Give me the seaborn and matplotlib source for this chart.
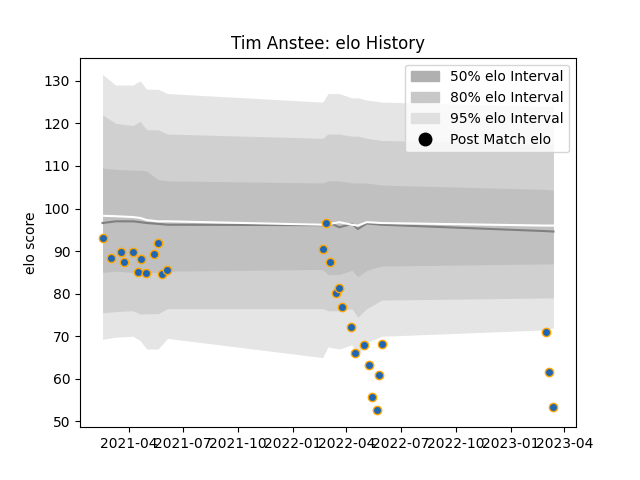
import numpy as np
import pandas as pd
import matplotlib
matplotlib.use("Agg")
import matplotlib.pyplot as plt
import matplotlib.dates as mdates
from matplotlib.patches import Patch
from matplotlib.lines import Line2D
import seaborn as sns

# Post match elo values
match_dates = ["2021-02-16", "2021-03-03", "2021-03-19", "2021-03-24", "2021-04-08", "2021-04-16",
               "2021-04-21", "2021-04-30", "2021-05-13", "2021-05-20", "2021-05-27", "2021-06-04",
               "2022-02-20", "2022-02-26", "2022-03-05", "2022-03-14", "2022-03-19", "2022-03-25",
               "2022-04-08", "2022-04-16", "2022-04-30", "2022-05-08", "2022-05-13", "2022-05-22",
               "2022-05-25", "2022-05-30", "2023-03-01", "2023-03-07", "2023-03-14"]
match_elo = [93.0, 88.5, 89.7, 87.5, 89.7, 85.2, 88.2, 84.9, 89.4, 92.0, 84.7, 85.5,
             90.4, 96.5, 87.5, 80.2, 81.4, 76.9, 72.2, 66.0, 67.9, 63.2, 55.7, 52.6,
             60.9, 68.2, 71.0, 61.5, 53.3]

# Rating distribution over time
band_dates = ["2021-02-16", "2021-03-10", "2021-04-08", "2021-04-20", "2021-05-01", "2021-05-20",
              "2021-06-05", "2022-02-20", "2022-03-01", "2022-03-20", "2022-04-10", "2022-04-20",
              "2022-05-05", "2022-05-30", "2023-03-01", "2023-03-14"]
hi95 = [131.5, 129, 129, 130, 128, 128, 127, 125, 127, 127, 126, 126, 125.5, 125, 124, 124]
hi80 = [122, 120, 119.5, 120.5, 118.5, 118.5, 117.5, 116.5, 117.5, 117.5, 117, 117, 116.5, 116, 115, 115]
hi50 = [109.5, 109.2, 109, 109, 108.8, 106.8, 106.5, 106, 106.5, 106.5, 106, 106, 106, 105.5, 104.5, 104.3]
median = [96.6, 97.0, 97.0, 96.8, 96.6, 96.4, 96.2, 96.1, 96.8, 95.6, 96.4, 95.2, 96.5, 96.2, 94.7, 94.6]
mean = [98.3, 98.2, 98.0, 97.8, 97.3, 97.0, 97.0, 96.2, 96.3, 96.8, 96.2, 96.0, 96.8, 96.6, 96.0, 96.0]
lo50 = [85, 85.3, 85, 85.5, 85, 85, 85.3, 85.7, 84.5, 84.5, 85.5, 84, 85.5, 86.5, 87, 87]
lo80 = [75.5, 75.8, 76, 75.2, 75.3, 75.3, 76.5, 76.5, 76, 76, 76.5, 74.5, 76.5, 78.5, 79, 79]
lo95 = [69.3, 69.8, 70, 69, 67, 67, 69.5, 65, 67.5, 67, 68, 65.5, 68.5, 70, 71.5, 72]

bands = pd.DataFrame({"date": pd.to_datetime(band_dates), "hi95": hi95, "hi80": hi80, "hi50": hi50,
                      "median": median, "mean": mean, "lo50": lo50, "lo80": lo80, "lo95": lo95})
matches = pd.DataFrame({"date": pd.to_datetime(match_dates), "elo": match_elo})

fig, ax = plt.subplots(figsize=(6.4, 4.8), dpi=100)

for lo, hi in [("lo95", "hi95"), ("lo80", "hi80"), ("lo50", "hi50")]:
    ax.fill_between(bands["date"], bands[lo], bands[hi], color="grey", alpha=0.2, linewidth=0)

sns.lineplot(data=bands, x="date", y="median", color="grey", linewidth=1.5, ax=ax)
sns.lineplot(data=bands, x="date", y="mean", color="white", linewidth=1.5, ax=ax)
sns.scatterplot(data=matches, x="date", y="elo", color="#1f66b5", edgecolor="orange",
                linewidth=1, s=36, zorder=5, ax=ax)

ax.xaxis.set_major_locator(mdates.MonthLocator(bymonth=[1, 4, 7, 10]))
ax.xaxis.set_major_formatter(mdates.DateFormatter("%Y-%m"))
ax.set_xlabel("")
ax.set_ylabel("elo score")
ax.set_title("Tim Anstee: elo History")

handles = [Patch(color="#b0b0b0", label="50% elo Interval"),
           Patch(color="#c8c8c8", label="80% elo Interval"),
           Patch(color="#e0e0e0", label="95% elo Interval"),
           Line2D([], [], marker="o", color="black", linestyle="", markersize=9, label="Post Match elo")]
ax.legend(handles=handles, loc="upper right")

fig.savefig("out.png", dpi=100)
